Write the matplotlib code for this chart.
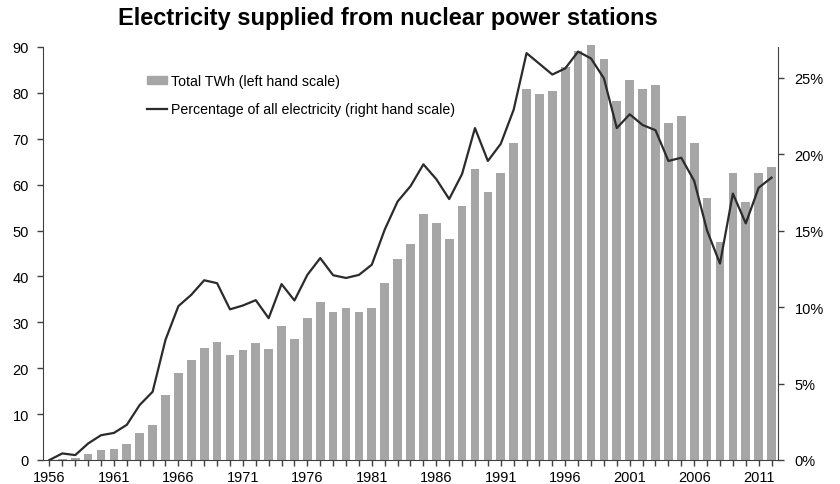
import matplotlib
matplotlib.use("Agg")
import matplotlib.pyplot as plt
from matplotlib.ticker import PercentFormatter, MultipleLocator
from matplotlib.patches import Patch
from matplotlib.lines import Line2D

plt.rcParams['font.family'] = ['Liberation Sans', 'DejaVu Sans']

years = list(range(1956, 2013))
twh = [0.0, 0.3, 0.4, 1.3, 2.1, 2.4, 3.5, 5.9, 7.7, 14.2,
       18.9, 21.8, 24.5, 25.8, 22.8, 24.0, 25.6, 24.2, 29.1, 26.4,
       31.0, 34.5, 32.3, 33.2, 32.2, 33.1, 38.6, 43.8, 47.1, 53.5,
       51.7, 48.1, 55.4, 63.4, 58.5, 62.6, 69.0, 80.8, 79.7, 80.4,
       85.6, 89.1, 90.4, 87.4, 78.2, 82.7, 80.8, 81.7, 73.5, 74.9,
       69.0, 57.1, 47.5, 62.6, 56.3, 62.5, 63.8]
pct = [0.0, 0.43, 0.32, 1.08, 1.62, 1.77, 2.3, 3.6, 4.46, 7.86,
       10.06, 10.8, 11.75, 11.56, 9.85, 10.1, 10.45, 9.27, 11.5, 10.43,
       12.1, 13.2, 12.08, 11.9, 12.1, 12.77, 15.06, 16.9, 17.9, 19.33,
       18.36, 17.06, 18.7, 21.7, 19.55, 20.67, 22.9, 26.6, 25.9, 25.2,
       25.6, 26.7, 26.25, 24.95, 21.7, 22.6, 21.9, 21.56, 19.55, 19.76,
       18.25, 15.0, 12.84, 17.42, 15.47, 17.8, 18.46]
pct = [p / 100 for p in pct]

fig = plt.figure(figsize=(8.4, 4.85), dpi=100)
ax = fig.add_axes([43/840, 1-461/485, (778-43)/840, (461-48)/485])
ax.bar(years, twh, width=0.67, color='#a6a6a6', zorder=2, clip_on=False)
ax.set_xlim(1955.5, 2012.5)
ax.set_ylim(0, 90)
ax.yaxis.set_major_locator(MultipleLocator(10))
ax.set_xticks(list(range(1956, 2013, 5)))
ax.set_xticks(years, minor=True)
ax.tick_params(axis='x', which='both', direction='out', length=4, width=1, colors='#404040', labelcolor='black', labelsize=10.5, pad=3)
ax.tick_params(axis='y', direction='out', length=4, width=1, colors='#404040', labelcolor='black', labelsize=10.5, pad=6)
ax.spines['top'].set_visible(False)
ax.spines['right'].set_visible(False)
for s in ['left', 'bottom']:
    ax.spines[s].set_color('#404040')

ax2 = ax.twinx()
ax2.plot(years, pct, color='#2b2b2b', lw=1.6, zorder=3)
ax2.set_ylim(0, 0.27)
ax2.yaxis.set_major_locator(MultipleLocator(0.05))
ax2.yaxis.set_major_formatter(PercentFormatter(xmax=1, decimals=0))
ax2.tick_params(axis='y', direction='out', length=4, width=1, colors='#404040', labelcolor='black', labelsize=10.5, pad=8)
ax2.spines['top'].set_visible(False)
ax2.spines['left'].set_visible(False)
ax2.spines['bottom'].set_visible(False)
ax2.spines['right'].set_color('#404040')

handles = [Patch(color='#a6a6a6'), Line2D([], [], color='#2b2b2b', lw=1.6)]
labels = ['Total TWh (left hand scale)', 'Percentage of all electricity (right hand scale)']
ax2.legend(handles, labels, loc='upper left', bbox_to_anchor=(147/840, 1-75/485),
           bbox_transform=fig.transFigure, frameon=False, fontsize=10.2,
           handlelength=1.4, handleheight=0.55, handletextpad=0.28, labelspacing=1.0,
           borderpad=0, borderaxespad=0)

fig.text(388/840, 1-18/485, 'Electricity supplied from nuclear power stations',
         ha='center', va='center', fontsize=17, fontweight='bold')

fig.savefig('out.png', dpi=100)
